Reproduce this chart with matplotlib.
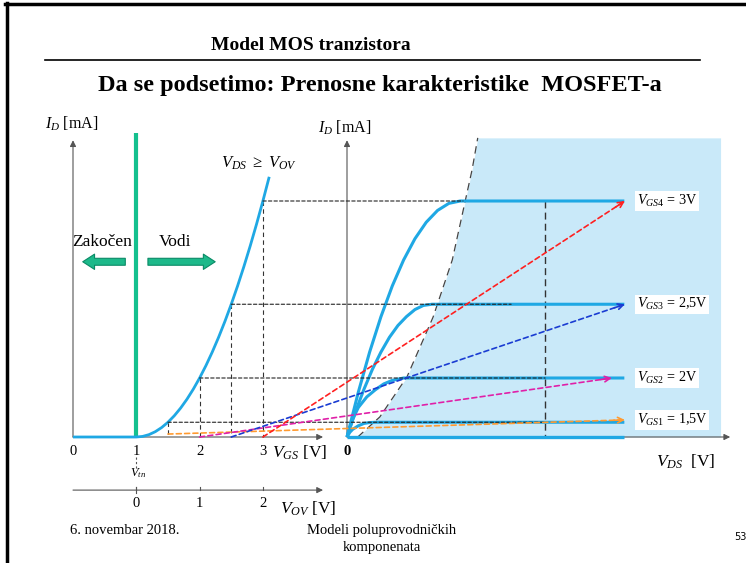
import matplotlib
matplotlib.use('Agg')
import matplotlib.pyplot as plt
from matplotlib.patches import ConnectionPatch, FancyArrowPatch
import numpy as np

plt.rcParams['font.family'] = ['Liberation Serif', 'DejaVu Serif']
plt.rcParams['mathtext.fontset'] = 'custom'
plt.rcParams['mathtext.rm'] = 'Liberation Serif'
plt.rcParams['mathtext.it'] = 'Liberation Serif:italic'
plt.rcParams['mathtext.bf'] = 'Liberation Serif:bold'

W, H = 746, 563

# prenosna karakteristika (levo): I_D(V_GS), V_tn = 1 V
vgs_curve = [0.0, 1.0, 1.1, 1.2, 1.3, 1.4, 1.5, 1.6, 1.7, 1.8, 1.9, 2.0, 2.1,
             2.2, 2.3, 2.4, 2.5, 2.6, 2.7, 2.8, 2.9, 3.0, 3.1]
id_curve = [0.0, 0.0, 0.01, 0.04, 0.09, 0.16, 0.25, 0.36, 0.49, 0.64, 0.81,
            1.0, 1.21, 1.44, 1.69, 1.96, 2.25, 2.56, 2.89, 3.24, 3.61, 4.0, 4.41]

# radne tacke
vgs_pts = [1.5, 2.0, 2.5, 3.0]
id_pts = [0.25, 1.0, 2.25, 4.0]
gs_labels = ['$V_{GS1}$ = 1,5V', '$V_{GS2}$ = 2V', '$V_{GS3}$ = 2,5V', '$V_{GS4}$ = 3V']
arrow_colors = ['#ff9a30', '#e020a8', '#1a3cd2', '#ff2020']
proj_end = [3.5, 3.5, 2.9, 2.05]
arrow_start_id = [0.05, 0.0, 0.0, 0.0]
arrow_end_vds = [4.91, 4.68, 4.91, 4.91]
arrow_end_id = [0.29, 1.0, 2.25, 4.0]

# izlazne karakteristike (desno)
vds_1 = [0.0, 0.05, 0.1, 0.2, 0.3, 0.4, 0.5, 4.9]
id_1 = [0.0, 0.08, 0.13, 0.19, 0.23, 0.245, 0.25, 0.25]
vds_2 = [0.0, 0.1, 0.2, 0.35, 0.5, 0.65, 0.8, 1.0, 4.9]
id_2 = [0.0, 0.3, 0.5, 0.68, 0.8, 0.9, 0.96, 1.0, 1.0]
vds_3 = [0.0, 0.15, 0.3, 0.45, 0.6, 0.75, 0.9, 1.05, 1.2, 1.35, 1.5, 4.9]
id_3 = [0.0, 0.43, 0.81, 1.15, 1.44, 1.69, 1.89, 2.04, 2.16, 2.23, 2.25, 2.25]
vds_4 = [0.0, 0.2, 0.4, 0.6, 0.8, 1.0, 1.2, 1.4, 1.6, 1.8, 2.0, 4.9]
id_4 = [0.0, 0.76, 1.44, 2.04, 2.56, 3.0, 3.36, 3.64, 3.84, 3.96, 4.0, 4.0]
out_vds = [vds_1, vds_2, vds_3, vds_4]
out_id = [id_1, id_2, id_3, id_4]

# granica oblasti zasicenja
sat_vds = [0.19, 0.58, 1.06, 1.52, 1.86, 2.21, 2.31]
sat_id = [0.0, 0.34, 1.02, 2.03, 3.0, 4.53, 5.07]
sat_right = 6.6
vds_vline = 3.5

BLUE = '#1fa8e4'
GRAY = '#555555'

fig = plt.figure(figsize=(W / 100, H / 100), dpi=100)
fig.patch.set_facecolor('white')


def place(x0, y0, sx, sy, xlim, ylim):
    left = x0 + xlim[0] * sx
    right = x0 + xlim[1] * sx
    top = y0 - ylim[1] * sy
    bottom = y0 - ylim[0] * sy
    ax = fig.add_axes([left / W, 1 - bottom / H, (right - left) / W, (bottom - top) / H])
    ax.set_xlim(xlim)
    ax.set_ylim(ylim)
    ax.axis('off')
    ax.patch.set_alpha(0)
    return ax


axL = place(73, 437, 63.3, 59, (-0.3, 4.2), (-1.8, 5.4))
axR = place(347, 437, 56.6, 59, (-0.3, 7.0), (-1.8, 5.4))


def axis_arrow(ax, p0, p1):
    ax.annotate('', xy=p1, xytext=p0,
                arrowprops=dict(arrowstyle='-|>', color=GRAY, lw=0.8,
                                mutation_scale=9, shrinkA=0, shrinkB=0))


# ---- levi grafik ----
axis_arrow(axL, (0, 0), (0, 5.03))
axis_arrow(axL, (0, 0), (3.95, 0))
axL.text(-0.44, 5.3, '$I_D$ [mA]', fontsize=11.5, ha='left', va='center')
for v in [0, 1, 2, 3]:
    axL.text(v, -0.25, str(v), fontsize=10.5, ha='center', va='center')
axL.text(3.14, -0.27, '$V_{GS}$ [V]', fontsize=12.5, ha='left', va='center')

# V_OV osa
axis_arrow(axL, (0, -0.9), (3.95, -0.9))
for v, lab in zip([1, 2, 3], ['0', '1', '2']):
    axL.plot([v, v], [-0.9, -0.84], color=GRAY, lw=0.8)
    axL.text(v, -1.12, lab, fontsize=10.5, ha='center', va='center')
axL.plot([1, 1], [-0.34, -0.56], color=GRAY, lw=0.8, ls=(0, (2, 2)))
axL.text(1.02, -0.62, '$V_{tn}$', fontsize=9, ha='center', va='center')
axL.plot([1, 1], [-0.95, -0.84], color=GRAY, lw=0.8)
axL.text(3.27, -1.22, '$V_{OV}$ [V]', fontsize=12.5, ha='left', va='center')

# zelena granica
axL.plot([1, 1], [0, 5.15], color='#14c08e', lw=3, solid_capstyle='butt', zorder=3)
for x0, x1 in [(0.87, 0.11), (1.14, 2.29)]:
    axL.add_patch(FancyArrowPatch((x0, 2.97), (x1, 2.97),
                                  arrowstyle='simple,head_length=0.85,head_width=1.1,tail_width=0.5',
                                  mutation_scale=10, fc='#1db98a', ec='#0a8a66', lw=0.8))
axL.text(0.46, 3.3, 'Zakočen', fontsize=12.5, ha='center', va='center')
axL.text(1.61, 3.3, 'Vodi', fontsize=12.5, ha='center', va='center')

axL.plot(vgs_curve, id_curve, color=BLUE, lw=2, zorder=4, solid_capstyle='butt')
axL.text(2.94, 4.64, r'$V_{DS}$ $\geq$ $V_{OV}$', fontsize=12, ha='center', va='center')

# projekcije
for v, i, e in zip(vgs_pts, id_pts, proj_end):
    axL.plot([v, v], [i, 0], color='#333333', lw=0.8, ls=(0, (4, 3)))
    cp = ConnectionPatch((v, i), (e, i), coordsA=axL.transData, coordsB=axR.transData,
                         color='#222222', lw=0.8, ls=(0, (3, 2)))
    fig.add_artist(cp)

# ---- desni grafik ----
axR.fill_betweenx(sat_id, sat_vds, sat_right, color='#c9e9f9', lw=0, zorder=0)
axR.plot(sat_vds, sat_id, color='#444444', lw=0.9, ls=(0, (6, 4)), zorder=1)
axis_arrow(axR, (0, 0), (0, 5.03))
axis_arrow(axR, (0, 0), (6.77, 0))
axR.text(-0.51, 5.24, '$I_D$ [mA]', fontsize=11.5, ha='left', va='center')
axR.text(0, -0.25, '0', fontsize=10.5, ha='center', va='center', fontweight='bold')
axR.text(5.99, -0.42, '$V_{DS}$  [V]', fontsize=12.5, ha='center', va='center')
axR.plot([vds_vline, vds_vline], [4.0, 0], color='#333333', lw=1, ls=(0, (5, 3)), zorder=2)

axR.plot([0, 4.9], [0, 0], color=BLUE, lw=2.4, zorder=3, solid_capstyle='butt')
for vx, iy in zip(out_vds, out_id):
    axR.plot(vx, iy, color=BLUE, lw=2.2, zorder=3, solid_capstyle='butt')

for i, lab in zip(arrow_end_id, gs_labels):
    axR.text(5.12, i, lab, fontsize=10.2, ha='left', va='center', zorder=6,
             bbox=dict(fc='white', ec='none', pad=1.2))

# obojene strelice
for v, i0, ve, ie, c in zip(vgs_pts, arrow_start_id, arrow_end_vds, arrow_end_id, arrow_colors):
    cp = ConnectionPatch((v, i0), (ve, ie), coordsA=axL.transData, coordsB=axR.transData,
                         color=c, lw=1.2, ls=(0, (3, 2)), zorder=5)
    fig.add_artist(cp)
    p0 = axL.transData.transform((v, i0))
    p1 = axR.transData.transform((ve, ie))
    d = (p1 - p0) / np.hypot(*(p1 - p0))
    axR.annotate('', xy=(ve, ie), xytext=(-d[0] * 8, -d[1] * 8), textcoords='offset points',
                 arrowprops=dict(arrowstyle='->', color=c, lw=1.2, mutation_scale=10,
                                 shrinkA=0, shrinkB=0), zorder=5)

# ---- slajd ----
fig.add_artist(plt.Line2D([5 / W, 1], [1 - 3.5 / H, 1 - 3.5 / H], color='black', lw=2.5))
fig.add_artist(plt.Line2D([6.5 / W, 6.5 / W], [0, 1 - 3 / H], color='black', lw=2.5))
fig.add_artist(plt.Line2D([45 / W, 700 / W], [1 - 60 / H, 1 - 60 / H], color='black', lw=1.2))
fig.text(311 / W, 1 - 45 / H, 'Model MOS tranzistora', fontsize=14, fontweight='bold',
         ha='center', va='center')
fig.text(380 / W, 1 - 85 / H, 'Da se podsetimo: Prenosne karakteristike  MOSFET-a',
         fontsize=17.5, fontweight='bold', ha='center', va='center')
fig.text(70 / W, 1 - 530 / H, '6. novembar 2018.', fontsize=10.5, ha='left', va='center')
fig.text(382 / W, 1 - 539 / H, 'Modeli poluprovodničkih\nkomponenata', fontsize=10.5,
         ha='center', va='center', linespacing=1.35)
fig.text(740 / W, 1 - 537 / H, '53', fontsize=7, ha='center', va='center', family='DejaVu Sans')

fig.savefig('out.png', dpi=100)
